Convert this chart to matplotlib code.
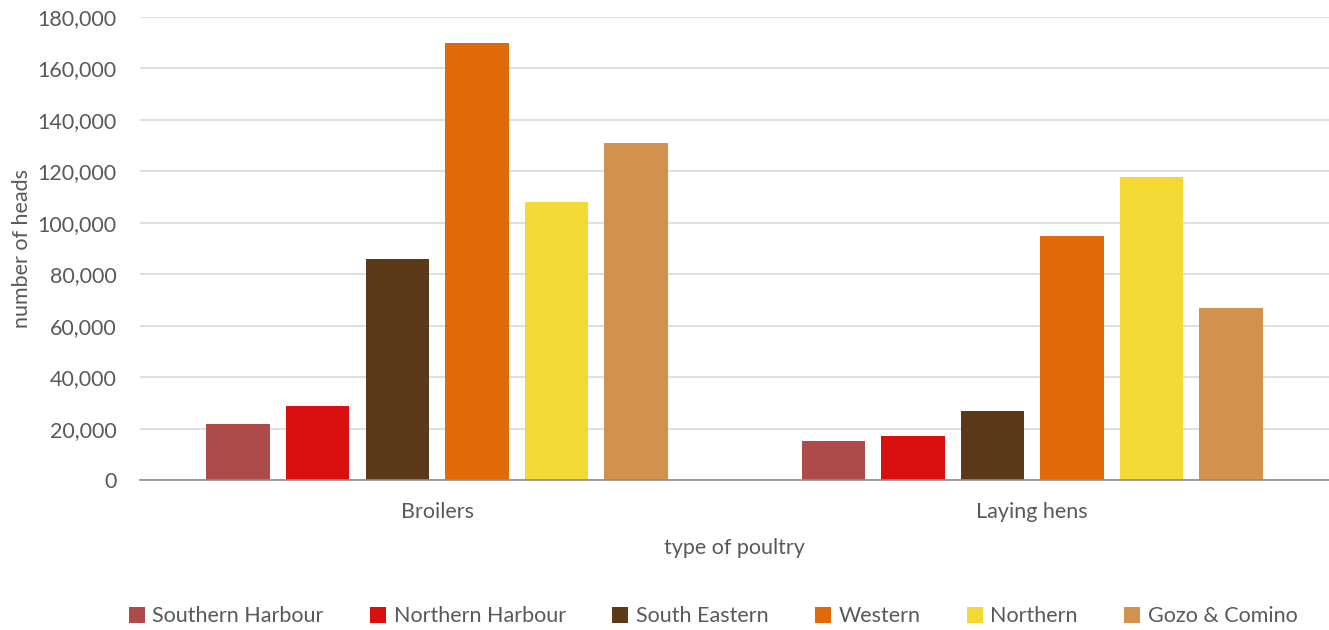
import matplotlib
matplotlib.use("Agg")
from matplotlib import pyplot as plt
from matplotlib.ticker import FuncFormatter
import numpy as np

plt.rcParams['font.family'] = ['Lato', 'DejaVu Sans']

# data
categories = ["Broilers", "Laying hens"]
regions = ["Southern Harbour", "Northern Harbour", "South Eastern", "Western", "Northern", "Gozo & Comino"]
broilers = [21700, 28700, 86000, 169800, 108000, 131000]
laying_hens = [15000, 17000, 26700, 95000, 117700, 66800]
colors = ["#AD4B4B", "#D9100F", "#5A3A18", "#E06A07", "#F4D934", "#D3914E"]

values = np.array([broilers, laying_hens])
text_col = "#595959"
fs = 15.5

fig = plt.figure(figsize=(13.29, 6.3), dpi=100)
ax = fig.add_axes([0.105, 0.238, 0.8955, 0.735])

x = np.arange(len(categories))
step = 0.1337
width = 0.1066
for i, name in enumerate(regions):
    ax.bar(x + (i - 2.5) * step, values[:, i], width, color=colors[i], label=name, zorder=3)

ax.set_xlim(-0.5, 1.5)
ax.set_ylim(0, 180000)
ax.set_yticks(np.arange(0, 180001, 20000))
ax.yaxis.set_major_formatter(FuncFormatter(lambda v, p: "{:,.0f}".format(v)))
ax.set_xticks(x)
ax.set_xticklabels(categories)
ax.grid(axis="y", color="#D9D9D9", linewidth=1.2, zorder=0)
ax.tick_params(length=0, labelsize=fs, colors=text_col)
ax.tick_params(axis="y", pad=16.5)
ax.tick_params(axis="x", pad=15.5)
for s in ["top", "right", "left"]:
    ax.spines[s].set_visible(False)
ax.spines["bottom"].set_color("#8C8C8C")
ax.spines["bottom"].set_linewidth(1.2)
ax.spines["bottom"].set_zorder(4)

ax.set_ylabel("number of heads", fontsize=fs, color=text_col, labelpad=4)
ax.set_xlabel("type of poultry", fontsize=fs, color=text_col, labelpad=12)

fig.legend(loc="lower center", bbox_to_anchor=(0.5365, -0.025), ncol=6, frameon=False,
           fontsize=fs, labelcolor=text_col, handlelength=0.75, handleheight=0.75,
           columnspacing=2.15, handletextpad=0.35)

fig.savefig("out.png", dpi=100)
